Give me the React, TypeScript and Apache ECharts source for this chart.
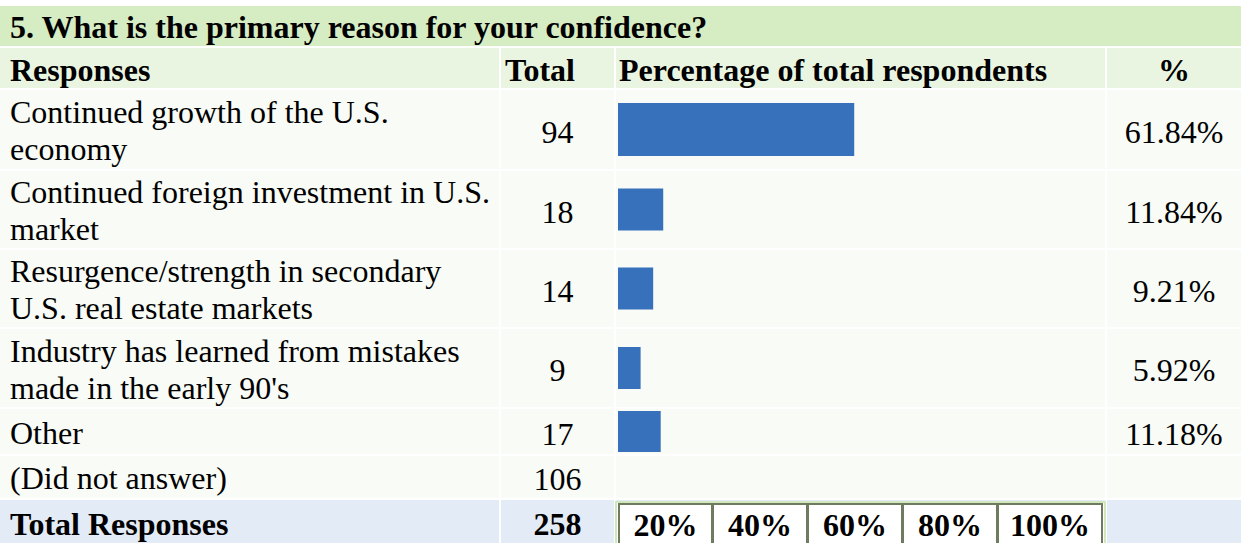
import React, { useEffect, useRef } from "react";
import * as echarts from "echarts";

const title = "5. What is the primary reason for your confidence?";
const columnHeaders = ["Responses", "Total", "Percentage of total respondents", "%"];
const responses = [
  "Continued growth of the U.S.\neconomy",
  "Continued foreign investment in U.S.\nmarket",
  "Resurgence/strength in secondary\nU.S. real estate markets",
  "Industry has learned from mistakes\nmade in the early 90's",
  "Other",
  "(Did not answer)",
];
const totals = [94, 18, 14, 9, 17, 106];
const percents = [61.84, 11.84, 9.21, 5.92, 11.18];
const totalLabel = "Total Responses";
const totalResponses = 258;
const scaleTicks = ["20%", "40%", "60%", "80%", "100%"];

// layout (pixels)
const COLS: [number, number][] = [[0, 499], [501, 614], [616, 1105], [1107, 1241]];
const TITLE_ROW: [number, number] = [6, 46];
const HEADER_ROW: [number, number] = [48, 88];
const BODY_ROWS: [number, number][] = [[90, 169], [171, 248], [250, 327], [329, 407], [409, 454], [456, 498]];
const TOTAL_ROW: [number, number] = [500, 543];
const BAR_HEIGHTS = [53, 42, 42, 42, 41];
const TICK_BOXES: [number, number][] = [[619, 712], [713, 807], [808, 902], [903, 997], [998, 1102]];

const FONT = '"Liberation Serif", "Times New Roman", serif';
const C_TITLE = "#d6ecc2";
const C_HEADER = "#eaf5e1";
const C_BODY = "#f9fbf6";
const C_TOTAL = "#e3ebf6";
const C_BAR = "#3771bb";

function rect(x1: number, y1: number, x2: number, y2: number, fill: string, extra: any = {}) {
  return { type: "rect", shape: { x: x1, y: y1, width: x2 - x1, height: y2 - y1 }, style: { fill, ...extra }, z: 0, silent: true };
}
function text(t: string, x: number, y: number, opts: any = {}) {
  return {
    type: "text",
    x,
    y,
    z: 5,
    silent: true,
    style: {
      text: t,
      fontFamily: FONT,
      fontSize: 32,
      fontWeight: opts.bold ? "bold" : "normal",
      fill: "#000",
      align: opts.align || "left",
      verticalAlign: "middle",
      lineHeight: 37,
    },
  };
}

export default function App() {
  const ref = useRef<HTMLDivElement>(null);
  useEffect(() => {
    if (!ref.current) return;
    const chart = echarts.init(ref.current, null, { renderer: "svg" });
    const g: any[] = [];
    const mid = (r: [number, number]) => (r[0] + r[1]) / 2;

    // title row
    g.push(rect(0, TITLE_ROW[0], 1241, TITLE_ROW[1], C_TITLE));
    g.push(text(title, 10, mid(TITLE_ROW) + 1, { bold: true }));
    // header row
    COLS.forEach((c) => g.push(rect(c[0], HEADER_ROW[0], c[1], HEADER_ROW[1], C_HEADER)));
    g.push(text(columnHeaders[0], 10, mid(HEADER_ROW) + 2, { bold: true }));
    g.push(text(columnHeaders[1], 505, mid(HEADER_ROW) + 2, { bold: true }));
    g.push(text(columnHeaders[2], 619, mid(HEADER_ROW) + 2, { bold: true }));
    g.push(text(columnHeaders[3], mid(COLS[3]), mid(HEADER_ROW) + 2, { bold: true, align: "center" }));
    // body rows
    BODY_ROWS.forEach((r, i) => {
      COLS.forEach((c) => g.push(rect(c[0], r[0], c[1], r[1], C_BODY)));
      g.push(text(responses[i], 10, mid(r) + 1));
      g.push(text(String(totals[i]), mid(COLS[1]), mid(r) + 2, { align: "center" }));
      if (i < percents.length) {
        g.push(text(percents[i].toFixed(2) + "%", mid(COLS[3]), mid(r) + 2, { align: "center" }));
      }
    });
    // total row
    COLS.forEach((c) => g.push(rect(c[0], TOTAL_ROW[0], c[1], TOTAL_ROW[1], C_TOTAL)));
    g.push(text(totalLabel, 10, mid(TOTAL_ROW) + 2, { bold: true }));
    g.push(text(String(totalResponses), mid(COLS[1]), mid(TOTAL_ROW) + 2, { bold: true, align: "center" }));
    // scale boxes
    g.push(rect(616, 502, 1105, 545, "#ffffff", { stroke: "#cfe7ba", lineWidth: 2 }));
    TICK_BOXES.forEach((b, i) => {
      g.push(rect(b[0], 504, b[1], 545, "#ffffff", { stroke: "#6e7b5f", lineWidth: 2 }));
      g.push(text(scaleTicks[i], (b[0] + b[1]) / 2, 525, { bold: true, align: "center" }));
    });

    const grids: any[] = [];
    const xAxes: any[] = [];
    const yAxes: any[] = [];
    const series: any[] = [];
    percents.forEach((p, i) => {
      const r = BODY_ROWS[i];
      const h = BAR_HEIGHTS[i];
      grids.push({ left: 618, width: 382, top: mid(r) - h / 2, height: h });
      xAxes.push({ type: "value", gridIndex: i, min: 0, max: 100, show: false });
      yAxes.push({ type: "category", gridIndex: i, data: [responses[i]], show: false });
      series.push({
        type: "bar",
        xAxisIndex: i,
        yAxisIndex: i,
        data: [p],
        barWidth: "100%",
        itemStyle: { color: C_BAR },
        silent: true,
        z: 3,
      });
    });

    chart.setOption({
      animation: false,
      backgroundColor: "#ffffff",
      grid: grids,
      xAxis: xAxes,
      yAxis: yAxes,
      series,
      graphic: { elements: g },
    });
    return () => chart.dispose();
  }, []);
  return <div ref={ref} style={{ position: "absolute", left: 0, top: 0, width: 1241, height: 543 }} />;
}
